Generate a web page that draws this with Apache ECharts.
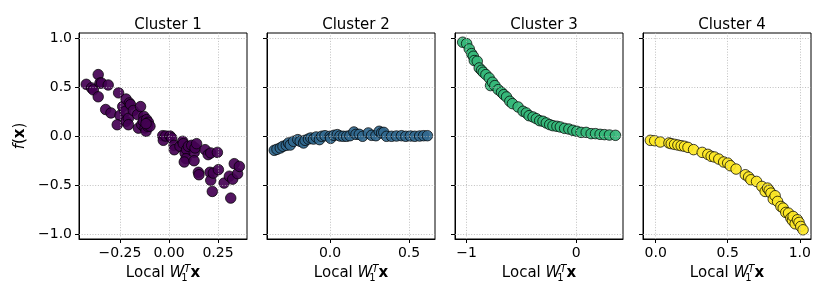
<!DOCTYPE html>
<html><head><meta charset="utf-8">
<script src="https://cdn.jsdelivr.net/npm/echarts@6/dist/echarts.min.js"></script>
<style>html,body{margin:0;padding:0;background:#fff}#c{width:830px;height:302px}</style>
</head><body><div id="c"></div>
<script>
const titles = ['Cluster 1', 'Cluster 2', 'Cluster 3', 'Cluster 4'];

const c1x = [-0.422,-0.395,-0.386,-0.361,-0.361,-0.352,-0.344,-0.31,-0.323,-0.296,-0.257,-0.25,-0.264,-0.236,-0.219,-0.224,-0.219,-0.207,-0.202,-0.196,-0.207,-0.182,-0.16,-0.145,-0.128,-0.156,-0.139,-0.131,-0.122,-0.117,-0.114,-0.105,-0.109,-0.097,-0.117,-0.032,-0.029,-0.017,0.005,0.014,0.026,0.027,0.056,0.07,0.073,0.082,0.09,0.099,0.087,0.078,0.116,0.129,0.133,0.141,0.128,0.15,0.153,0.184,0.2,0.213,0.209,0.213,0.221,0.226,0.247,0.252,0.281,0.308,0.315,0.325,0.333,0.35,0.359];
const c1y = [0.527,0.49,0.47,0.626,0.40,0.54,0.54,0.52,0.27,0.235,0.44,0.21,0.115,0.30,0.377,0.25,0.15,0.18,0.337,0.32,0.115,0.26,0.218,0.30,0.20,0.08,0.115,0.15,0.082,0.048,0.167,0.14,0.1,0.1,0.126,0.003,-0.044,0.0,0.0,-0.02,-0.095,-0.14,-0.105,-0.054,-0.078,-0.173,-0.139,-0.105,-0.231,-0.265,-0.095,-0.167,-0.122,-0.078,-0.252,-0.37,-0.395,-0.139,-0.19,-0.173,-0.37,-0.452,-0.565,-0.378,-0.167,-0.343,-0.48,-0.41,-0.633,-0.44,-0.282,-0.384,-0.31];

const c2x = [-0.353,-0.336,-0.315,-0.298,-0.277,-0.263,-0.252,-0.231,-0.204,-0.189,-0.168,-0.158,-0.137,-0.122,-0.105,-0.088,-0.067,-0.053,-0.032,0.0,0.004,0.025,0.046,0.063,0.084,0.105,0.126,0.151,0.164,0.185,0.206,0.242,0.263,0.29,0.311,0.326,0.34,0.357,0.389,0.42,0.452,0.479,0.508,0.536,0.567,0.592,0.616];
const c2y = [-0.146,-0.136,-0.122,-0.105,-0.095,-0.071,-0.092,-0.054,-0.037,-0.054,-0.071,-0.044,-0.031,-0.02,-0.031,-0.01,-0.037,-0.003,0.003,-0.003,-0.024,0.007,0.014,0.0,-0.003,-0.003,0.003,0.041,0.017,0.017,-0.003,0.031,0.007,0.003,0.048,0.031,0.037,-0.003,-0.003,0.0,0.003,-0.003,0.0,-0.003,0.0,0.003,0.003];

const c3x = [-1.036,-1.0,-0.976,-0.955,-0.939,-0.93,-0.903,-0.885,-0.864,-0.848,-0.824,-0.794,-0.782,-0.764,-0.742,-0.712,-0.682,-0.661,-0.636,-0.606,-0.582,-0.53,-0.485,-0.455,-0.43,-0.394,-0.364,-0.333,-0.303,-0.273,-0.242,-0.212,-0.176,-0.145,-0.106,-0.067,-0.03,0.006,0.045,0.091,0.136,0.176,0.218,0.258,0.303,0.358];
const c3y = [0.956,0.942,0.888,0.84,0.813,0.769,0.762,0.694,0.67,0.65,0.626,0.592,0.514,0.548,0.514,0.473,0.446,0.422,0.398,0.354,0.33,0.296,0.252,0.235,0.207,0.194,0.177,0.156,0.15,0.133,0.116,0.105,0.099,0.092,0.078,0.071,0.058,0.048,0.037,0.037,0.024,0.024,0.017,0.014,0.01,0.007];

const c4x = [-0.037,-0.007,0.032,0.092,0.108,0.131,0.154,0.177,0.2,0.224,0.263,0.323,0.362,0.385,0.408,0.438,0.472,0.5,0.518,0.558,0.622,0.645,0.661,0.7,0.737,0.76,0.776,0.788,0.8,0.816,0.829,0.846,0.869,0.885,0.903,0.922,0.938,0.949,0.954,0.968,0.984,0.995,1.007,1.023];
const c4y = [-0.044,-0.048,-0.061,-0.071,-0.078,-0.085,-0.092,-0.099,-0.105,-0.116,-0.139,-0.167,-0.187,-0.207,-0.214,-0.235,-0.265,-0.276,-0.303,-0.337,-0.395,-0.418,-0.446,-0.463,-0.514,-0.565,-0.531,-0.554,-0.582,-0.643,-0.609,-0.667,-0.718,-0.735,-0.779,-0.786,-0.837,-0.861,-0.82,-0.895,-0.854,-0.881,-0.922,-0.956];

const xTicks = [[-0.25, 0, 0.25], [0, 0.5], [-1, 0], [0, 0.5, 1]];
const xDecimals = [2, 1, 0, 1];
const yTicks = [-1, -0.5, 0, 0.5, 1];
const yDecimals = 1;

// layout & style (not data)
const xRanges = [[-0.459, 0.398], [-0.399, 0.664], [-1.106, 0.427], [-0.088, 1.078]];
const yRange = [-1.05, 1.05];
const gridLefts = [79, 267, 455, 643];
const gridW = 168, gridTop = 33, gridH = 206;
const colors = ['#440154', '#31688e', '#35b779', '#fde725'];
const FONT = 'DejaVu Sans';

const xs = [c1x, c2x, c3x, c4x];
const ys = [c1y, c2y, c3y, c4y];

function fmt(v, d) {
  const s = Math.abs(v).toFixed(d);
  return (v < -1e-9 ? '\u2212' : '') + s;
}

const nameRich = {
  n: {fontFamily: FONT, fontSize: 15, color: '#000', lineHeight: 19},
  it: {fontFamily: FONT, fontSize: 15, fontStyle: 'italic', color: '#000', lineHeight: 19},
  sub: {fontFamily: FONT, fontSize: 10, color: '#000', lineHeight: 9, verticalAlign: 'bottom', width: 0},
  sup: {fontFamily: FONT, fontSize: 10, fontStyle: 'italic', color: '#000', lineHeight: 9, verticalAlign: 'top'},
  bx: {fontFamily: FONT, fontSize: 15, fontWeight: 'bold', color: '#000', lineHeight: 19}
};

const grids = [], xAxes = [], yAxes = [], series = [], tl = [];
for (let i = 0; i < 4; i++) {
  grids.push({left: gridLefts[i], top: gridTop, width: gridW, height: gridH,
    show: true, borderColor: '#000', borderWidth: 1, backgroundColor: 'transparent',
    containLabel: false, outerBoundsMode: 'none'});
  tl.push({text: titles[i], left: gridLefts[i] + gridW / 2, top: 13, textAlign: 'center',
    textStyle: {fontFamily: FONT, fontSize: 15, fontWeight: 'normal', color: '#000'}});
  const d = xDecimals[i];
  xAxes.push({type: 'value', gridIndex: i, min: xRanges[i][0], max: xRanges[i][1],
    name: '{n|Local }{it|W}{sub|1}{sup|T}{bx|x}', nameLocation: 'middle', nameGap: 25,
    nameMoveOverlap: false,
    nameTextStyle: {rich: nameRich},
    axisLine: {show: true, onZero: false, lineStyle: {color: '#000', width: 1}},
    axisTick: {show: true, inside: false, length: 4, customValues: xTicks[i], lineStyle: {color: '#000', width: 1}},
    axisLabel: {show: true, margin: 7, customValues: xTicks[i], fontFamily: FONT, fontSize: 14, color: '#000',
      formatter: v => fmt(v, d)},
    splitLine: {show: false}});
  const yax = {type: 'value', gridIndex: i, min: yRange[0], max: yRange[1],
    axisLine: {show: true, onZero: false, lineStyle: {color: '#000', width: 1}},
    axisTick: {show: true, inside: false, length: 4, customValues: yTicks, lineStyle: {color: '#000', width: 1}},
    axisLabel: {show: i === 0, margin: 7, customValues: yTicks, fontFamily: FONT, fontSize: 14, color: '#000',
      formatter: v => fmt(v, yDecimals)},
    splitLine: {show: false}};
  if (i === 0) {
    Object.assign(yax, {name: '{it|f}{n|(}{bx|x}{n|)}', nameLocation: 'middle', nameRotate: 90, nameGap: 49,
      nameMoveOverlap: false, nameTextStyle: {rich: nameRich}});
  }
  yAxes.push(yax);
  const pts = xs[i].map((x, k) => [x, ys[i][k]]);
  series.push({type: 'scatter', xAxisIndex: i, yAxisIndex: i, data: pts,
    symbol: 'circle', symbolSize: 10.5, clip: false,
    itemStyle: {color: colors[i], opacity: 0.92, borderColor: '#000', borderWidth: 0.8},
    emphasis: {disabled: true},
    markLine: {silent: true, symbol: ['none', 'none'], label: {show: false}, animation: false,
      lineStyle: {type: [1, 1.7], color: '#b0b0b0', width: 0.8},
      emphasis: {disabled: true},
      data: xTicks[i].map(v => ({xAxis: v})).concat(yTicks.map(v => ({yAxis: v})))}
  });
}

const chart = echarts.init(document.getElementById('c'), null, {renderer: 'canvas'});
chart.setOption({animation: false, backgroundColor: '#fff', title: tl, grid: grids,
  xAxis: xAxes, yAxis: yAxes, series: series});
</script></body></html>
